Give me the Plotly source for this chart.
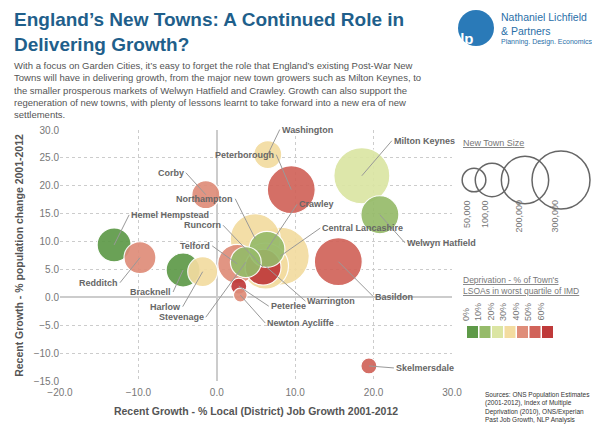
import plotly.graph_objects as go

towns = ["Hemel Hempstead","Redditch","Bracknell","Harlow","Corby","Washington","Peterborough",
         "Milton Keynes","Welwyn Hatfield","Basildon","Skelmersdale","Northampton","Central Lancashire",
         "Warrington","Runcorn","Crawley","Telford","Stevenage","Peterlee","Newton Aycliffe"]
job_growth = [-13.1,-9.8,-4.3,-1.8,-1.4,6.5,9.5,18.5,20.8,15.5,19.4,4.9,8.1,6.2,5.9,6.4,2.6,3.7,2.8,3.0]
pop_growth = [9.4,7.1,4.9,4.6,18.4,25.6,19.3,21.8,14.8,6.4,-12.3,10.5,7.4,5.6,5.4,8.6,6.0,6.3,2.0,0.4]
population = [103000,91000,103000,80000,70000,70000,205000,280000,129000,205000,23000,223000,300000,
              190000,115000,115000,135000,85000,23000,17000]
deprivation = [0,40,0,30,40,30,50,20,10,50,50,30,30,30,60,10,40,10,60,40]
# label offsets (px)
label_dx = [15,-20,-10,-20,-20,12,-15,30,25,35,25,-20,40,40,-40,30,-25,-40,30,25]
label_dy = [-30,25,22,35,-22,-25,-35,-35,28,35,2,-40,-28,35,-42,-45,-18,55,20,28]

size_ticks = [50000,100000,200000,300000]
size_tick_labels = ["50,000","100,00","200,000","300,000"]
dep_levels = [0,10,20,30,40,50,60]
dep_colors = ["#5e9a48","#96bb6a","#dbe5a3","#f3dca0","#df8d79","#d1635a","#bf3a3a"]

cmap = dict(zip(dep_levels, dep_colors))
maxd = 58
sizeref = 2.0*max(size_ticks)/(maxd**2)
FONT = "Liberation Sans"

order = sorted(range(len(towns)), key=lambda i: -population[i])
fig = go.Figure()
fig.add_trace(go.Scatter(
    x=[job_growth[i] for i in order], y=[pop_growth[i] for i in order], mode="markers",
    text=[towns[i] for i in order],
    marker=dict(size=[population[i] for i in order], sizemode="area", sizeref=sizeref,
                color=[cmap[deprivation[i]] for i in order], opacity=0.92,
                line=dict(color="white", width=1.2)),
    showlegend=False, hoverinfo="text"))

for i, t in enumerate(towns):
    fig.add_annotation(x=job_growth[i], y=pop_growth[i], text="<b>"+t+"</b>", ax=label_dx[i], ay=label_dy[i],
                       showarrow=True, arrowhead=0, arrowcolor="#999", arrowwidth=1,
                       font=dict(family=FONT, size=9, color="#666"),
                       xanchor="left" if label_dx[i] > 0 else "right")

def px(x): return (x-60)/392
def py(y): return (381-y)/251

fig.add_annotation(xref="paper", yref="paper", x=px(12), y=py(7), xanchor="left", yanchor="top", showarrow=False, align="left",
                   text="<b>England’s New Towns: A Continued Role in<br>Delivering Growth?</b>",
                   font=dict(family=FONT, size=19, color="#1f5f8b"))
fig.add_annotation(xref="paper", yref="paper", x=px(12), y=py(58), xanchor="left", yanchor="top", showarrow=False, align="left",
                   text="With a focus on Garden Cities, it’s easy to forget the role that England’s existing Post-War New<br>"
                        "Towns will have in delivering growth, from the major new town growers such as Milton Keynes, to<br>"
                        "the smaller prosperous markets of Welwyn Hatfield and Crawley. Growth can also support the<br>"
                        "regeneration of new towns, with plenty of lessons learnt to take forward into a new era of new<br>"
                        "settlements.",
                   font=dict(family=FONT, size=9.5, color="#555"))
fig.add_shape(type="circle", xref="paper", yref="paper", x0=px(458), x1=px(494), y0=py(46), y1=py(10),
              fillcolor="#2a7ab8", line=dict(width=0))
fig.add_annotation(xref="paper", yref="paper", x=px(476), y=py(28), showarrow=False, text="<b>nlp</b>",
                   font=dict(family=FONT, size=15, color="white"))
fig.add_annotation(xref="paper", yref="paper", x=px(499), y=py(9), xanchor="left", yanchor="top", showarrow=False, align="left",
                   text="Nathaniel Lichfield<br>& Partners",
                   font=dict(family=FONT, size=10.5, color="#2a6fa8"))
fig.add_annotation(xref="paper", yref="paper", x=px(499), y=py(36), xanchor="left", yanchor="top", showarrow=False,
                   text="Planning. Design. Economics.",
                   font=dict(family=FONT, size=7, color="#2a6fa8"))

fig.add_annotation(xref="paper", yref="paper", x=px(461), y=py(136), xanchor="left", showarrow=False,
                   text="<u>New Town Size</u>", font=dict(family=FONT, size=9, color="#777"))
lx = [474, 492, 525, 561]
for k, (s, lab) in enumerate(zip(size_ticks, size_tick_labels)):
    r = (s/max(size_ticks))**0.5*maxd/2
    cx, cy = lx[k], 180
    fig.add_shape(type="circle", xref="paper", yref="paper",
                  x0=px(cx-r), x1=px(cx+r), y0=py(cy+r), y1=py(cy-r),
                  line=dict(color="#666", width=1.5))
    fig.add_annotation(xref="paper", yref="paper", x=px(cx), y=py(198), yanchor="top", showarrow=False,
                       text=lab, textangle=-90, font=dict(family=FONT, size=9, color="#777"))
fig.add_annotation(xref="paper", yref="paper", x=px(461), y=py(285), xanchor="left", showarrow=False, align="left",
                   text="<u>Deprivation - % of Town's</u><br><u>LSOAs in worst quartile of IMD</u>",
                   font=dict(family=FONT, size=8.5, color="#777"))
for k, (lv, c) in enumerate(zip(dep_levels, dep_colors)):
    x0 = 467 + k*12.5
    fig.add_shape(type="rect", xref="paper", yref="paper", x0=px(x0), x1=px(x0+11),
                  y0=py(338), y1=py(326), fillcolor=c, line=dict(width=0))
    fig.add_annotation(xref="paper", yref="paper", x=px(x0+5.5), y=py(323), yanchor="bottom", showarrow=False,
                       text=f"{lv}%", textangle=-90, font=dict(family=FONT, size=9, color="#777"))

fig.add_annotation(xref="paper", yref="paper", x=px(592), y=py(389), xanchor="right", yanchor="top", showarrow=False, align="left",
                   text="Sources: ONS Population Estimates<br>(2001-2012), Index of Multiple<br>Deprivation (2010), ONS/Experian<br>Past Job Growth, NLP Analysis",
                   font=dict(family=FONT, size=6.5, color="#333"))

axis_common = dict(tickformat=".1f", showgrid=True, gridcolor="#ccc", griddash="dot", zeroline=True,
                   zerolinecolor="#ccc", zerolinewidth=2, tickfont=dict(family=FONT, size=10, color="#777"),
                   showline=False, automargin=False)
fig.update_xaxes(range=[-20, 30], dtick=10, ticklabelstandoff=4,
                 title=dict(text="<b>Recent Growth - % Local (District) Job Growth 2001-2012</b>",
                 font=dict(family=FONT, size=10.5, color="#555"), standoff=10), **axis_common)
fig.update_yaxes(range=[-15, 30], dtick=5, title=dict(text="<b>Recent Growth - % population change 2001-2012</b>",
                 font=dict(family=FONT, size=10.5, color="#555"), standoff=8), **axis_common)
fig.update_layout(width=592, height=427, margin=dict(l=52, r=148, t=122, b=54),
                  plot_bgcolor="white", paper_bgcolor="white")
fig.write_html("out.html")
